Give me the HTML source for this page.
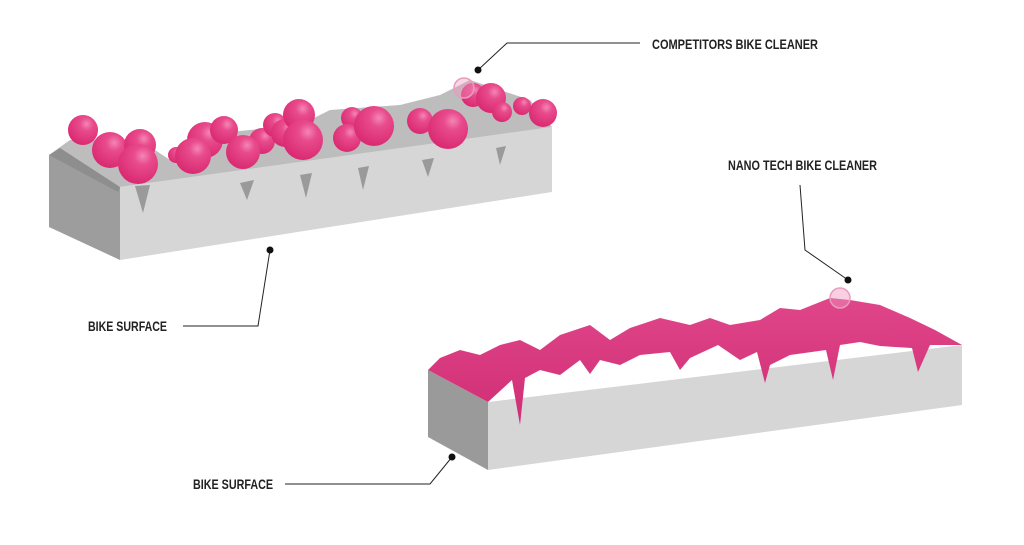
<!DOCTYPE html>
<html><head><meta charset="utf-8"><style>
html,body{margin:0;padding:0;background:#fff;}
svg{display:block;}
text{font-family:"Liberation Sans",sans-serif;font-weight:bold;font-size:14px;fill:#222;}
</style></head><body>
<svg width="1024" height="545" viewBox="0 0 1024 545" xmlns="http://www.w3.org/2000/svg">
<defs>
<radialGradient id="sp" cx="0.62" cy="0.3" r="0.75">
<stop offset="0" stop-color="#f486b4"/><stop offset="0.3" stop-color="#e84b8c"/><stop offset="1" stop-color="#d9276f"/>
</radialGradient>
<linearGradient id="pk" x1="0" y1="0" x2="0" y2="1">
<stop offset="0" stop-color="#e0468a"/><stop offset="1" stop-color="#d02d74"/>
</linearGradient>
</defs>
<!-- top block -->
<polygon points="49,155 120,187 120,260 49,227" fill="#9d9d9d"/>
<polygon points="120,187 552,127 552,192 120,260" fill="#d6d6d6"/>
<polygon points="49,155 70,140 140,140 170,160 200,135 300,125 330,110 400,105 440,95 470,80 530,100 552,127 120,187" fill="#bdbdbd"/>
<polygon points="49,155 60,148 120,187 118,192" fill="#8e8e8e"/>
<g fill="#9a9a9a">
<polygon points="135,186 143,213 150,185"/><polygon points="240,183 247,200 254,180"/>
<polygon points="300,175 306,198 312,173"/><polygon points="358,168 363,190 369,166"/>
<polygon points="422,160 428,177 434,158"/><polygon points="496,148 500,165 506,146"/>
</g>
<g fill="url(#sp)">
<circle cx="83" cy="130" r="15"/><circle cx="110" cy="150" r="18"/><circle cx="140" cy="145" r="16"/>
<circle cx="176" cy="155" r="8"/><circle cx="138" cy="164" r="20"/>
<circle cx="205" cy="140" r="18"/><circle cx="224" cy="130" r="14"/><circle cx="193" cy="156" r="18"/>
<circle cx="262" cy="141" r="13"/><circle cx="275" cy="125" r="12"/><circle cx="243" cy="152" r="17"/>
<circle cx="285" cy="133" r="14"/><circle cx="299" cy="115" r="16"/><circle cx="303" cy="140" r="20"/>
<circle cx="352" cy="118" r="11"/><circle cx="347" cy="138" r="14"/><circle cx="374" cy="126" r="20"/>
<circle cx="420" cy="121" r="13"/><circle cx="448" cy="129" r="20"/>
<circle cx="473" cy="95" r="12"/><circle cx="491" cy="98" r="15"/><circle cx="502" cy="112" r="10"/>
<circle cx="522" cy="106" r="9"/><circle cx="543" cy="113" r="14"/>
</g>
<circle cx="464" cy="88" r="10" fill="rgba(240,150,190,0.4)" stroke="#e79cc0" stroke-width="1.5"/>
<!-- bottom block -->
<polygon points="428,370 488,402 488,470 428,437" fill="#9a9a9a"/>
<polygon points="488,402 962,345 962,405 488,470" fill="#d6d6d6"/>
<path d="M428,370 L440,358 460,350 480,355 500,345 520,340 540,350 560,335 590,325 610,340 630,328 660,318 690,325 710,318 730,325 760,320 780,308 800,310 830,298 850,300 880,305 910,318 935,330 962,345 L930,345 918,372 912,348 880,346 860,342 840,345 833,380 826,350 790,355 770,365 765,383 757,352 740,360 718,345 690,358 680,370 670,352 640,355 620,365 600,360 590,374 580,360 560,375 540,370 525,378 520,425 512,380 488,402 Z" fill="url(#pk)"/>
<circle cx="840" cy="298" r="10" fill="rgba(240,150,190,0.45)" stroke="#e79cc0" stroke-width="1.5"/>
<!-- callouts -->
<g stroke="#222" stroke-width="1" fill="none">
<polyline points="478,70 507,43 640,43"/>
<polyline points="848,280 805,250 800,185"/>
<polyline points="183,326 258,326 270,250"/>
<polyline points="285,484 430,484 452,457"/>
</g>
<g fill="#111">
<circle cx="478" cy="70" r="3.5"/><circle cx="848" cy="280" r="3.5"/>
<circle cx="270" cy="250" r="3.5"/><circle cx="452" cy="457" r="3.5"/>
</g>
<text x="652" y="49" textLength="166" lengthAdjust="spacingAndGlyphs">COMPETITORS BIKE CLEANER</text>
<text x="728" y="170" textLength="149" lengthAdjust="spacingAndGlyphs">NANO TECH BIKE CLEANER</text>
<text x="88" y="331" textLength="79" lengthAdjust="spacingAndGlyphs">BIKE SURFACE</text>
<text x="193" y="489" textLength="80" lengthAdjust="spacingAndGlyphs">BIKE SURFACE</text>
</svg>
</body></html>
